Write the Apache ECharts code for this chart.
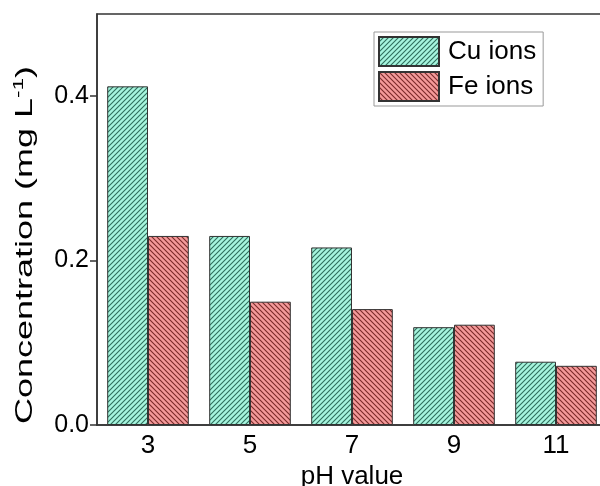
<!DOCTYPE html>
<html>
<head>
<meta charset="utf-8">
<script src="https://cdn.jsdelivr.net/npm/echarts@6/dist/echarts.min.js"></script>
<style>
  html, body { margin: 0; padding: 0; background: #fff; }
  #chart { width: 600px; height: 486px; }
</style>
</head>
<body>
<div id="chart"></div>
<script>
const phValues = ["3", "5", "7", "9", "11"];
const cuIons = [0.412, 0.230, 0.216, 0.119, 0.077];
const feIons = [0.230, 0.150, 0.141, 0.122, 0.072];
const yTicks = [0, 0.2, 0.4];

const font = "'Liberation Sans', Arial, sans-serif";

// hatch fill, dir 1 = "/", dir -1 = "\"
const hatch = (bg, line, dir) => {
  const s = 5;
  const c = document.createElement("canvas");
  c.width = s;
  c.height = s;
  const ctx = c.getContext("2d");
  ctx.fillStyle = bg;
  ctx.fillRect(0, 0, s, s);
  ctx.strokeStyle = line;
  ctx.lineWidth = 1.1;
  ctx.beginPath();
  if (dir > 0) {
    ctx.moveTo(-1, s + 1); ctx.lineTo(s + 1, -1);
    ctx.moveTo(-1, 1); ctx.lineTo(1, -1);
    ctx.moveTo(s - 1, s + 1); ctx.lineTo(s + 1, s - 1);
  } else {
    ctx.moveTo(-1, -1); ctx.lineTo(s + 1, s + 1);
    ctx.moveTo(s - 1, -1); ctx.lineTo(s + 1, 1);
    ctx.moveTo(-1, s - 1); ctx.lineTo(1, s + 1);
  }
  ctx.stroke();
  return { image: c, repeat: "repeat" };
};

const chart = echarts.init(document.getElementById("chart"));

chart.setOption({
  animation: false,
  textStyle: { fontFamily: font },
  grid: {
    left: 97,
    top: 14,
    width: 510,
    height: 411,
    outerBoundsMode: "none",
    show: true,
    borderColor: "#333",
    borderWidth: 1.5,
  },
  legend: {
    orient: "vertical",
    left: 374,
    top: 32,
    icon: "rect",
    itemWidth: 60,
    itemHeight: 29,
    itemGap: 4,
    padding: [4, 7, 4, 4],
    borderColor: "#999",
    borderWidth: 1,
    textStyle: { fontSize: 26, color: "#000", fontFamily: font, padding: [0, 0, 0, 4] },
  },
  xAxis: {
    type: "category",
    data: phValues,
    name: "pH value",
    nameLocation: "middle",
    nameGap: 37,
    nameTextStyle: { fontSize: 26, color: "#000", fontFamily: font },
    axisTick: { show: false },
    axisLine: { lineStyle: { color: "#333", width: 1.5 } },
    axisLabel: { fontSize: 26, color: "#000", margin: 8, fontFamily: font },
  },
  yAxis: {
    type: "value",
    min: 0,
    max: 0.5,
    interval: 0.1,
    splitLine: { show: false },
    axisLine: { show: true, lineStyle: { color: "#333", width: 1.5 } },
    axisTick: { show: true, length: 7, customValues: yTicks, lineStyle: { color: "#333", width: 1.5 } },
    axisLabel: {
      fontSize: 25,
      color: "#000",
      margin: 8,
      fontFamily: font,
      customValues: yTicks,
      formatter: (v) => v.toFixed(1),
    },
  },
  series: [
    {
      name: "Cu ions",
      type: "bar",
      data: cuIons,
      barWidth: "40%",
      barGap: "0%",
      itemStyle: { color: hatch("#a6f5de", "#2f6e5c", 1), borderColor: "#333", borderWidth: 1 },
    },
    {
      name: "Fe ions",
      type: "bar",
      data: feIons,
      barWidth: "40%",
      barGap: "0%",
      itemStyle: { color: hatch("#f49a9a", "#7a2a2a", -1), borderColor: "#333", borderWidth: 1 },
    },
  ],
  graphic: [
    {
      type: "text",
      x: 25,
      y: 245,
      rotation: Math.PI / 2,
      scaleX: 1.5,
      style: {
        text: "{a|Concentration (mg L}{s|-1}{a|)}",
        align: "center",
        verticalAlign: "middle",
        fill: "#000",
        rich: {
          a: { fontSize: 24, fontFamily: font, fill: "#000" },
          s: { fontSize: 15, fontFamily: font, fill: "#000", padding: [0, 0, 12, 0] },
        },
      },
    },
  ],
});
</script>
</body>
</html>
